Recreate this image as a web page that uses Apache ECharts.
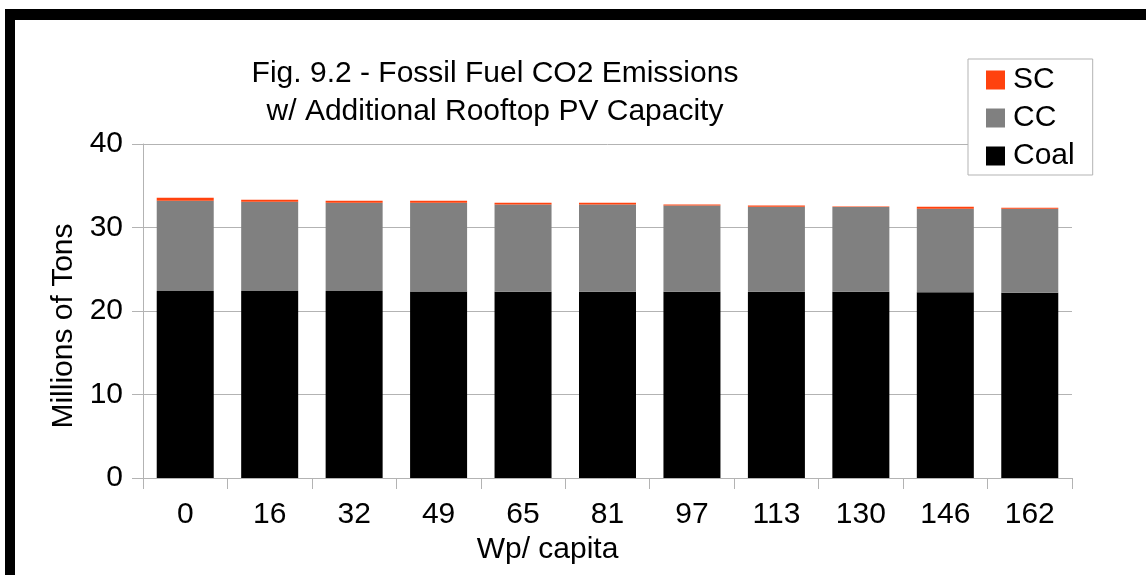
<!DOCTYPE html>
<html>
<head>
<meta charset="utf-8">
<style>
  html, body { margin: 0; padding: 0; background: #fff; }
  #chart { width: 1146px; height: 575px; }
</style>
<script src="https://cdn.jsdelivr.net/npm/echarts@6/dist/echarts.min.js"></script>
</head>
<body>
<div id="chart"></div>
<script>
const categories = ['0', '16', '32', '49', '65', '81', '97', '113', '130', '146', '162'];
const coal = [22.4, 22.4, 22.4, 22.35, 22.3, 22.3, 22.3, 22.3, 22.3, 22.25, 22.2];
const cc   = [10.81, 10.69, 10.57, 10.62, 10.44, 10.44, 10.32, 10.2, 10.15, 10.01, 10.06];
const sc   = [0.36, 0.24, 0.24, 0.24, 0.23, 0.23, 0.12, 0.12, 0.06, 0.24, 0.12];
const yTicks = { min: 0, max: 40, interval: 10 };

const FONT = '"Liberation Sans", Arial, sans-serif';
const chart = echarts.init(document.getElementById('chart'), null, { renderer: 'canvas' });

chart.setOption({
  backgroundColor: '#ffffff',
  animation: false,
  title: {
    text: 'Fig. 9.2 - Fossil Fuel CO2 Emissions\nw/ Additional Rooftop PV Capacity',
    left: 495,
    top: 55,
    textAlign: 'center',
    padding: 0,
    textStyle: { fontFamily: FONT, fontSize: 30, fontWeight: 'normal', color: '#000', lineHeight: 38, align: 'center' }
  },
  legend: {
    data: ['SC', 'CC', 'Coal'],
    orient: 'vertical',
    left: 968,
    top: 59,
    padding: [6, 18, 4, 18],
    itemGap: 8,
    itemWidth: 19,
    itemHeight: 19,
    icon: 'rect',
    borderColor: '#b3b3b3',
    borderWidth: 1,
    backgroundColor: '#fff',
    textStyle: { fontFamily: FONT, fontSize: 30, color: '#000', padding: [0, 0, 0, 3] }
  },
  grid: { left: 143, right: 74, top: 144, bottom: 97, containLabel: false },
  xAxis: {
    type: 'category',
    data: categories,
    name: 'Wp/ capita',
    nameLocation: 'middle',
    nameGap: 54,
    nameTextStyle: { fontFamily: FONT, fontSize: 30, color: '#000', padding: [0, 120, 0, 0] },
    axisLine: { lineStyle: { color: '#b3b3b3', width: 1 } },
    axisTick: { show: true, length: 11, lineStyle: { color: '#b3b3b3' } },
    axisLabel: { fontFamily: FONT, fontSize: 30, color: '#000', margin: 22 }
  },
  yAxis: {
    type: 'value',
    min: yTicks.min,
    max: yTicks.max,
    interval: yTicks.interval,
    name: 'Millions of Tons',
    nameLocation: 'middle',
    nameGap: 62,
    nameTextStyle: { fontFamily: FONT, fontSize: 30, color: '#000', padding: [0, 30, 0, 0] },
    axisLine: { show: true, lineStyle: { color: '#b3b3b3', width: 1 } },
    axisTick: { show: true, length: 11, lineStyle: { color: '#b3b3b3' } },
    axisLabel: { fontFamily: FONT, fontSize: 30, color: '#000', margin: 20 },
    splitLine: { show: true, lineStyle: { color: '#b3b3b3', width: 1 } }
  },
  series: [
    { name: 'Coal', type: 'bar', stack: 'total', data: coal, barCategoryGap: '32.5%', itemStyle: { color: '#000000' } },
    { name: 'CC', type: 'bar', stack: 'total', data: cc, itemStyle: { color: '#808080' } },
    { name: 'SC', type: 'bar', stack: 'total', data: sc, itemStyle: { color: '#ff420e' } }
  ],
  graphic: [
    { type: 'rect', silent: true, z: 100, shape: { x: 5, y: 9, width: 1141, height: 11 }, style: { fill: '#000' } },
    { type: 'rect', silent: true, z: 100, shape: { x: 5, y: 9, width: 10, height: 566 }, style: { fill: '#000' } }
  ]
});
</script>
</body>
</html>
